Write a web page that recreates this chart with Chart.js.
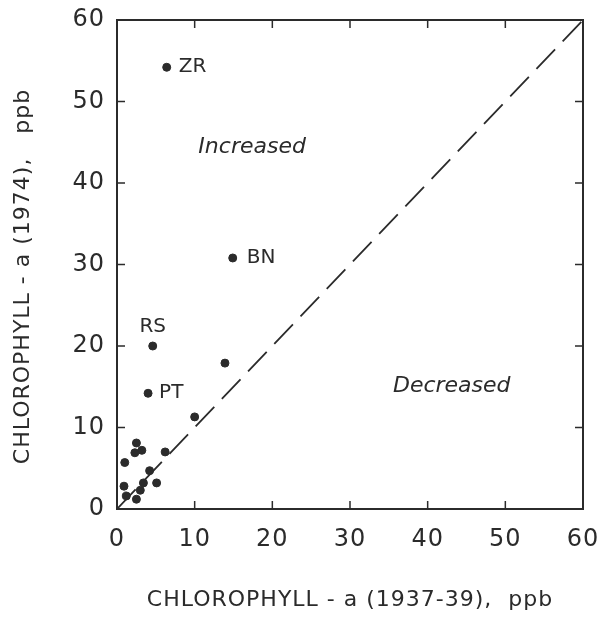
<!DOCTYPE html>
<html>
<head>
<meta charset="utf-8">
<script src="https://cdn.jsdelivr.net/npm/chart.js@4.4.0/dist/chart.umd.min.js"></script>
<style>
  html, body { margin: 0; padding: 0; background: #fff; }
  #wrap { width: 610px; height: 618px; }
</style>
</head>
<body>
<div id="wrap"><canvas id="chart"></canvas></div>
<script>
'use strict';

// chlorophyll-a, ppb
const chl1937 = [6.4, 14.9, 4.6, 13.9, 4.0, 10.0, 2.5, 2.3, 3.2, 6.2, 1.0, 4.2, 5.1, 3.4, 3.0, 0.9, 1.2, 2.5];
const chl1974 = [54.2, 30.8, 20.0, 17.9, 14.2, 11.3, 8.1, 6.9, 7.2, 7.0, 5.7, 4.7, 3.2, 3.2, 2.3, 2.8, 1.6, 1.2];
const stationNames = ['ZR', 'BN', 'RS', '', 'PT', '', '', '', '', '', '', '', '', '', '', '', '', ''];
const tickValues = [0, 10, 20, 30, 40, 50, 60];
const oneToOne = [0, 60];

const ink = '#2b2b2b';

const points = chl1937.map((x, i) => ({x: x, y: chl1974[i]}));
const diagonal = oneToOne.map(v => ({x: v, y: v}));

// where each station label sits relative to its dot (px)
const labelOffset = {
  ZR: [12, 0, 'left'],
  BN: [14, 0, 'left'],
  RS: [0, -19, 'center'],
  PT: [11, 0, 'left'],
};

// the lettering on the original is widely spaced
const spacingPlugin = {
  id: 'spacing',
  beforeDraw(chart) { chart.ctx.letterSpacing = '1px'; },
  beforeDatasetsDraw(chart) { chart.ctx.letterSpacing = '0px'; }
};

const framePlugin = {
  id: 'frame',
  afterDatasetsDraw(chart) {
    const {ctx, chartArea: a, scales: {x, y}} = chart;
    ctx.save();
    ctx.strokeStyle = ink;
    ctx.lineWidth = 2;
    ctx.strokeRect(a.left, a.top, a.right - a.left, a.bottom - a.top);
    ctx.lineWidth = 1.5;
    ctx.beginPath();
    for (const v of tickValues.slice(1, -1)) {
      const px = x.getPixelForValue(v);
      ctx.moveTo(px, a.bottom); ctx.lineTo(px, a.bottom - 8);
      ctx.moveTo(px, a.top); ctx.lineTo(px, a.top + 8);
      const py = y.getPixelForValue(v);
      ctx.moveTo(a.left, py); ctx.lineTo(a.left + 8, py);
      ctx.moveTo(a.right, py); ctx.lineTo(a.right - 8, py);
    }
    ctx.stroke();

    // station labels
    ctx.fillStyle = ink;
    ctx.font = '20px "DejaVu Sans"';
    ctx.textBaseline = 'middle';
    stationNames.forEach((name, i) => {
      if (!name) return;
      const off = labelOffset[name];
      ctx.textAlign = off[2];
      ctx.fillText(name, x.getPixelForValue(chl1937[i]) + off[0], y.getPixelForValue(chl1974[i]) + off[1]);
    });

    // region labels
    ctx.font = 'italic 22px "DejaVu Sans"';
    ctx.textAlign = 'center';
    ctx.fillText('Increased', x.getPixelForValue(17.4), y.getPixelForValue(44.4));
    ctx.fillText('Decreased', x.getPixelForValue(43.1), y.getPixelForValue(15.0));
    ctx.restore();
  }
};

const ctx = document.getElementById('chart');
new Chart(ctx, {
  type: 'scatter',
  data: {
    datasets: [{
      label: 'stations',
      data: points,
      backgroundColor: ink,
      borderColor: ink,
      pointRadius: 4,
      pointHoverRadius: 4,
    }, {
      type: 'line',
      label: '1:1',
      data: diagonal,
      borderColor: ink,
      borderWidth: 1.8,
      borderDash: [27, 11],
      pointRadius: 0,
      fill: false,
    }]
  },
  options: {
    responsive: true,
    maintainAspectRatio: false,
    animation: false,
    layout: {
      padding: {top: 20, right: 27, left: 0, bottom: 0}
    },
    plugins: {
      legend: {display: false},
      tooltip: {enabled: false}
    },
    scales: {
      x: {
        type: 'linear',
        min: 0,
        max: 60,
        afterBuildTicks: scale => { scale.ticks = tickValues.map(v => ({value: v})); },
        afterFit: scale => {
          scale.height = 109;
          scale.paddingLeft = 0;
          scale.paddingRight = 0;
        },
        grid: {display: false, drawTicks: false},
        border: {display: false},
        ticks: {
          color: ink,
          padding: 16,
          font: {family: 'DejaVu Sans', size: 24}
        },
        title: {
          display: true,
          text: 'CHLOROPHYLL - a (1937-39),  ppb',
          color: ink,
          padding: {top: 0, bottom: 5},
          font: {family: 'DejaVu Sans', size: 22}
        }
      },
      y: {
        type: 'linear',
        min: 0,
        max: 60,
        afterBuildTicks: scale => { scale.ticks = tickValues.map(v => ({value: v})); },
        afterFit: scale => {
          scale.width = 117;
          scale.paddingTop = 0;
          scale.paddingBottom = 0;
        },
        grid: {display: false, drawTicks: false},
        border: {display: false},
        ticks: {
          color: ink,
          padding: 12,
          font: {family: 'DejaVu Sans', size: 24}
        },
        title: {
          display: true,
          text: 'CHLOROPHYLL - a (1974),   ppb   ',
          color: ink,
          padding: {top: 10, bottom: 0},
          font: {family: 'DejaVu Sans', size: 22}
        }
      }
    }
  },
  plugins: [spacingPlugin, framePlugin]
});
</script>
</body>
</html>
